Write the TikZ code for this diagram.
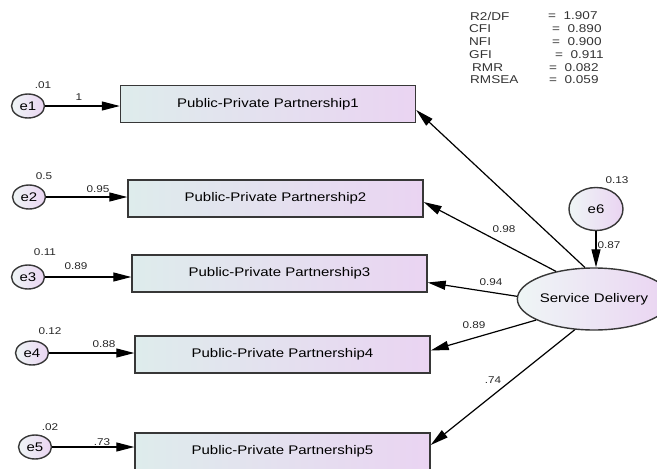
\documentclass[tikz,border=0pt]{standalone}
\usepackage{fontspec}
\setmainfont[FakeStretch=1.2]{Liberation Sans}
\usepackage{xcolor}
\usetikzlibrary{positioning, arrows.meta, shapes.geometric, calc}

\definecolor{boxleft}{RGB}{222,236,236}
\definecolor{boxright}{RGB}{234,212,242}
\definecolor{edgegray}{RGB}{55,55,55}

\begin{document}
\begin{tikzpicture}[
    x=1pt, y=-1pt,
    indicator/.style={rectangle, draw=edgegray, line width=1.4pt, left color=boxleft, right color=boxright,
        minimum width=295pt, minimum height=37pt, inner sep=0pt, font=\fontsize{12.5}{14}\selectfont},
    errterm/.style={ellipse, draw=edgegray, line width=1.4pt, left color=boxleft!50!white, right color=boxright,
        minimum width=33pt, minimum height=24pt, inner sep=0pt, font=\fontsize{12.5}{14}\selectfont},
    latent/.style={errterm, minimum width=124pt, minimum height=62pt},
    coef/.style={inner sep=0pt, font=\fontsize{9.8}{11}\selectfont, text=black!85},
    fitstat/.style={inner sep=0pt, anchor=west, font=\fontsize{11.3}{12}\selectfont, text=black!80},
    loading/.style={-{Triangle[length=18pt,width=9pt]}, line width=1.2pt}
]
    \useasboundingbox (0,0) rectangle (657,469);

    % Fit indices
    \foreach \nm/\nx/\eqx/\val [count=\k] in {{R2/DF}/470/548/1.907, CFI/469/552/0.890, NFI/469/552/0.900,
        GFI/469/555/0.911, RMR/472/549/0.082, RMSEA/470/549/0.059}
    {
        \node[fitstat] (n\k) at (\nx, {16+12.8*(\k-1)}) {\nm};
        \node[fitstat] (v\k) at (\eqx, {16+12.8*(\k-1)}) {= \ \val};
    }

    % Observed indicators
    \node[indicator] (p1) at (268,104) {Public-Private Partnership1};
    \node[indicator] (p2) at (275.5,198.5) {Public-Private Partnership2};
    \node[indicator] (p3) at (279.5,273.5) {Public-Private Partnership3};
    \node[indicator] (p4) at (282.5,354.5) {Public-Private Partnership4};
    \node[indicator] (p5) at (282.5,451.5) {Public-Private Partnership5};

    % Error terms
    \node[errterm] (e1) at (28,106) {e1};
    \node[errterm] (e2) at (29,197) {e2};
    \node[errterm] (e3) at (28,277) {e3};
    \node[errterm] (e4) at (32,353) {e4};
    \node[errterm] (e5) at (35,447) {e5};

    % Latent factor
    \node[latent] (sd) at (594,299) {Service Delivery};
    \node[errterm, minimum width=54pt, minimum height=43pt] (e6) at (596,209) {e6};

    % Variances
    \node[coef] at (43,85) {.01};
    \node[coef] at (44,176) {0.5};
    \node[coef] at (45,252) {0.11};
    \node[coef] at (50,331) {0.12};
    \node[coef] at (50,427) {.02};
    \node[coef] at (617,180) {0.13};

    % Error paths
    \foreach \i in {1,...,5}
        \draw[loading] (e\i) -- (e\i -| p\i.west);
    \node[coef] at (79,97) {1};
    \node[coef] at (98,189) {0.95};
    \node[coef] at (76,266) {0.89};
    \node[coef] at (104,344) {0.88};
    \node[coef] at (102,442) {.73};

    % Factor loadings
    \foreach \a/\i/\dy in {106/1/6, 144/2/3.5, 178/3/9, 200/4/-4, 238/5/-6.5}
        \draw[loading] (sd.\a) -- ($(p\i.east)+(0,\dy)$);
    \node[coef] at (504,229) {0.98};
    \node[coef] at (491,282) {0.94};
    \node[coef] at (474,325) {0.89};
    \node[coef] at (493,380) {.74};

    \draw[loading] (e6) -- (e6 |- sd.north);
    \node[coef] at (609,245) {0.87};
\end{tikzpicture}
\end{document}
